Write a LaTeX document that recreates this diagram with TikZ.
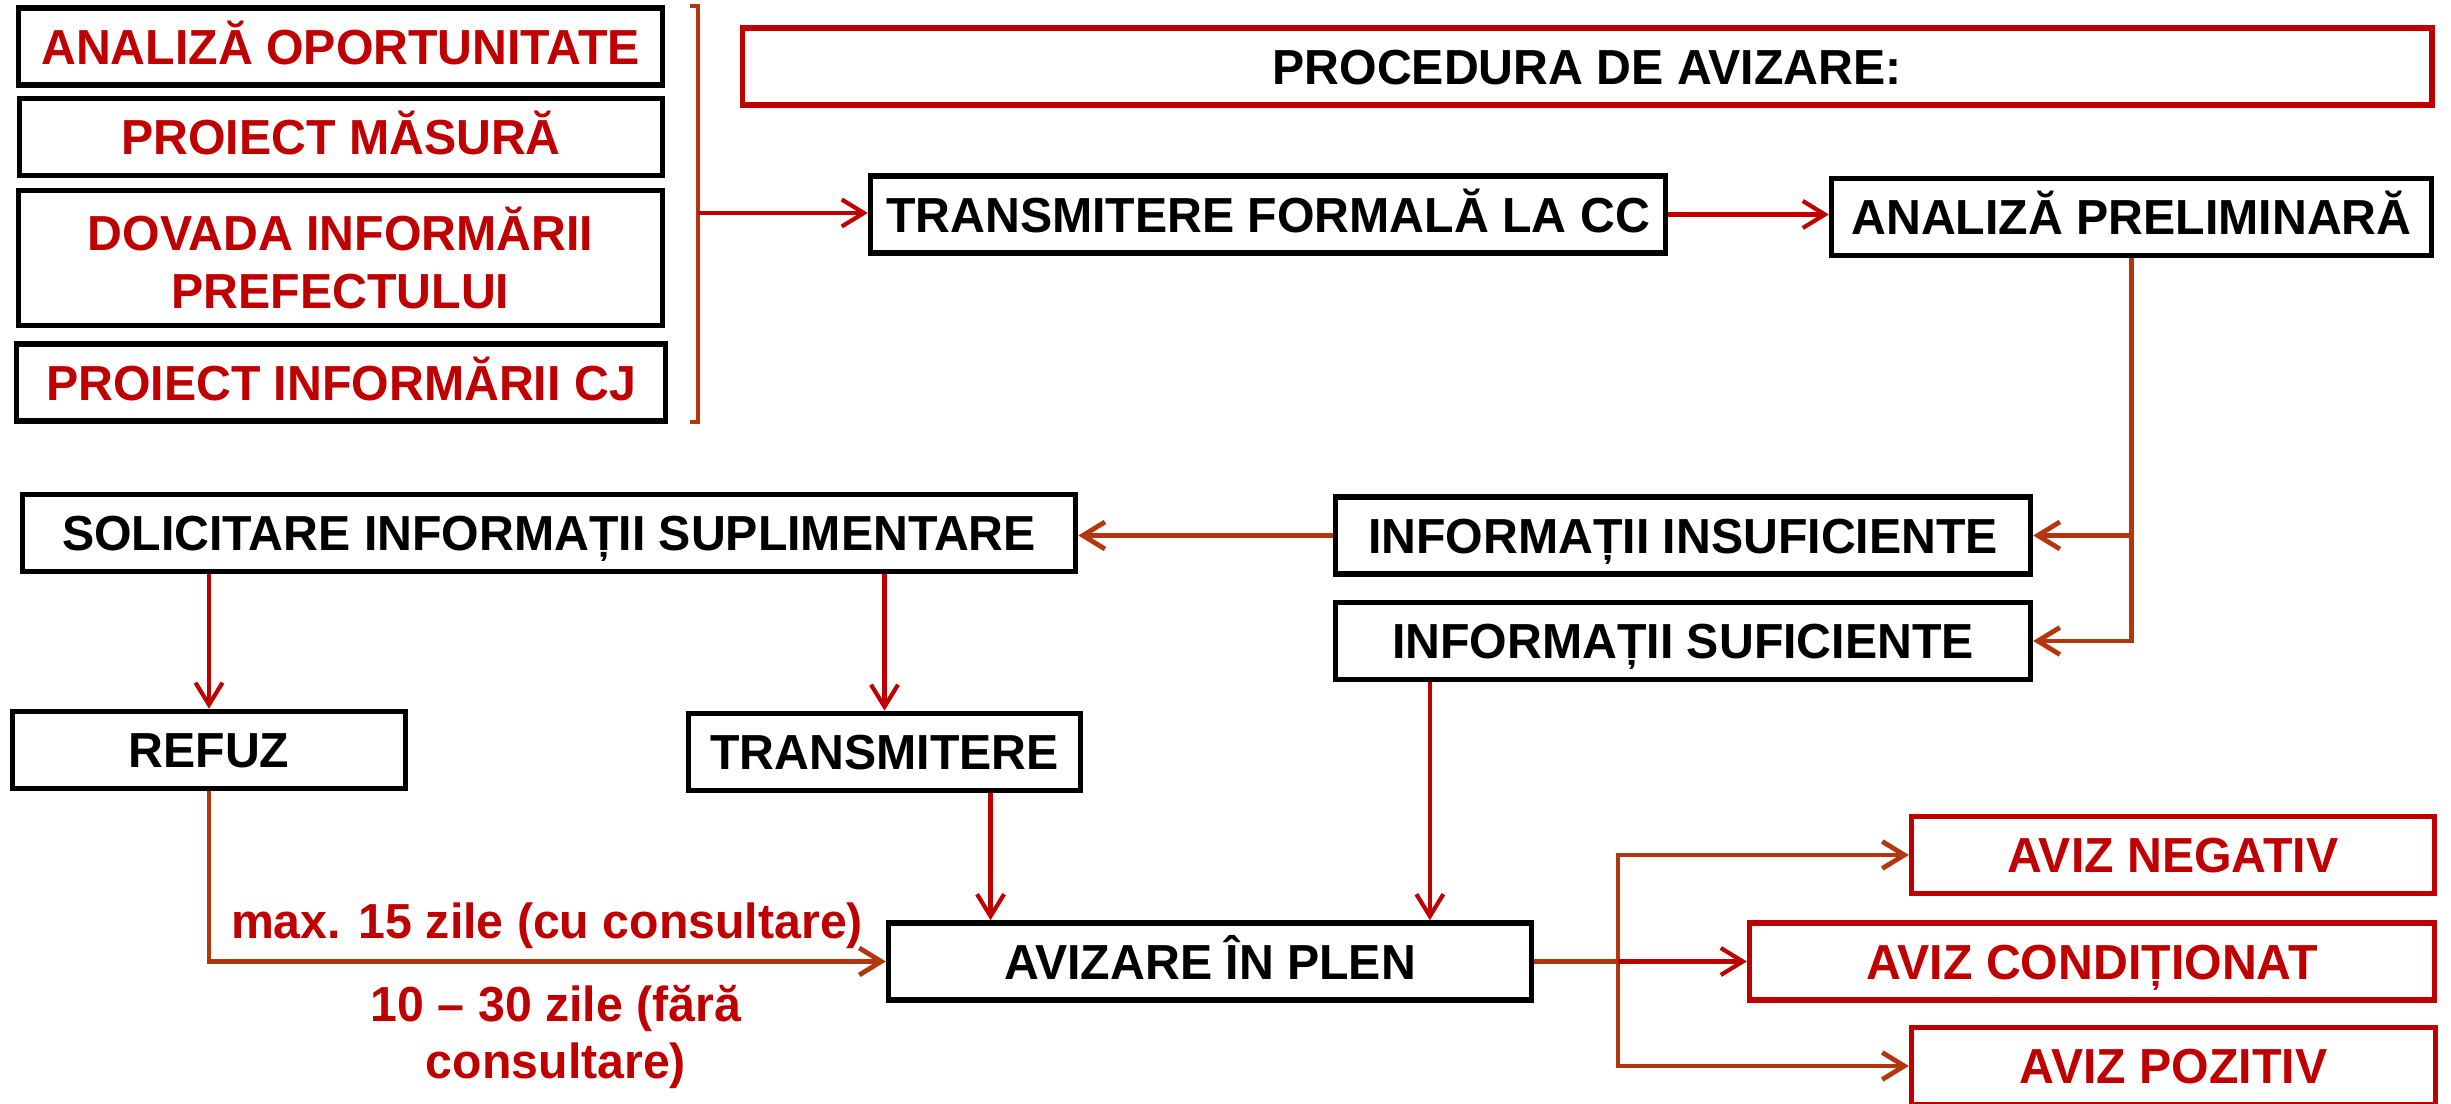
\documentclass[tikz,border=0pt]{standalone}
\usepackage{fontspec}
\setmainfont{Liberation Sans}[FakeStretch=0.98]
\usetikzlibrary{arrows.meta}

\definecolor{redc}{RGB}{192,0,0}
\definecolor{brownc}{RGB}{178,54,14}

\tikzstyle{bigfig}=[x=0.01cm,y=-0.01cm]
\tikzstyle{frame}=[draw,line width=0.055cm,fill=white,inner sep=0pt,minimum height=0.77cm,align=center,font=\fontsize{14pt}{16.3pt}\selectfont\bfseries]
\tikzstyle{box}=[frame,text height=0.354cm,text depth=0cm]
\tikzstyle{blackbox}=[box,draw=black]
\tikzstyle{redbox}=[box,draw=redc]
\tikzstyle{redtext}=[text=redc]
\tikzstyle{lbl}=[inner sep=0pt,align=center,text=redc,font=\fontsize{14pt}{16.3pt}\selectfont\bfseries]
\tikzstyle{redarrow}=[draw=redc,line width=0.042cm,-{Straight Barb[length=0.22cm,width=0.27cm]}]
\tikzstyle{brownline}=[draw=brownc,line width=0.048cm]
\tikzstyle{brownarrow}=[brownline,-{Straight Barb[length=0.22cm,width=0.27cm]}]

\begin{document}
\begin{tikzpicture}[style=bigfig]
\useasboundingbox (0,0) rectangle (2451,1104);

% documents
\node[blackbox,redtext,minimum width=6.435cm] (ao) at (340.5,46.5) {ANALIZĂ OPORTUNITATE};
\node[blackbox,redtext,minimum width=6.425cm] (pm) at (341,137) {PROIECT MĂSURĂ};
\node[frame,redtext,minimum width=6.435cm,minimum height=1.345cm] (dip) at (340.5,258) {DOVADA INFORMĂRII\\PREFECTULUI};
\node[blackbox,redtext,minimum width=6.485cm] (pcj) at (341,382.5) {PROIECT INFORMĂRII CJ};
\draw[brownc,line width=0.04cm] (690,6) -- (698,6) -- (698,422) -- (690,422);
\coordinate (brk) at (698,213);

% procedure
\node[redbox,minimum width=16.885cm] (proc) at (1587,66.5) {PROCEDURA DE AVIZARE:};
\node[blackbox,minimum width=7.945cm] (tfc) at (1268,214.5) {TRANSMITERE FORMALĂ LA CC};
\node[blackbox,minimum width=5.995cm] (anp) at (2131.5,217) {ANALIZĂ PRELIMINARĂ};
\node[blackbox,minimum width=6.945cm] (insuf) at (1683,535.5) {INFORMAȚII INSUFICIENTE};
\node[blackbox,minimum width=6.945cm] (suf) at (1683,641) {INFORMAȚII SUFICIENTE};
\node[blackbox,minimum width=10.525cm] (sol) at (549,533) {SOLICITARE INFORMAȚII SUPLIMENTARE};
\node[blackbox,minimum width=3.925cm] (ref) at (209,750) {REFUZ};
\node[blackbox,minimum width=3.915cm] (trm) at (884.5,752) {TRANSMITERE};
\node[blackbox,minimum width=6.425cm] (plen) at (1210,961.5) {AVIZARE ÎN PLEN};

% outcomes
\node[redbox,redtext,minimum width=5.225cm] (neg) at (2173,855) {AVIZ NEGATIV};
\node[redbox,redtext,minimum width=6.845cm] (cond) at (2092,961.5) {AVIZ CONDIȚIONAT};
\node[redbox,redtext,minimum width=5.235cm] (poz) at (2173.5,1066) {AVIZ POZITIV};

% deadlines
\node[lbl] (lab1) at (547,926) {max. 15 zile (cu consultare)};
\node[lbl] (lab2) at (556,1037) {10 – 30 zile (fără\\consultare)};

% connectors
\draw[redarrow] (brk) -- (brk -| tfc.west);
\draw[redarrow] (tfc.east) -- (tfc.east -| anp.west);
\draw[brownarrow] (anp.south) |- (insuf.east);
\draw[brownarrow] (anp.south) |- (suf.east);
\draw[brownarrow] (insuf.west) -- (insuf.west -| sol.east);
\draw[redarrow] (sol.south -| ref.north) -- (ref.north);
\draw[redarrow] (sol.south -| trm.north) -- (trm.north);
\coordinate (t1) at ([xshift=1.06cm]trm.south);
\draw[redarrow] (t1) -- (t1 |- plen.north);
\coordinate (s1) at ([xshift=-2.53cm]suf.south);
\draw[redarrow] (s1) -- (s1 |- plen.north);
\draw[brownarrow] (ref.south) |- (plen.west);
\coordinate (spl) at (1618,961.5);
\draw[brownline] (plen.east) -- (spl);
\draw[brownarrow] (spl) |- (neg.west);
\draw[brownarrow] (spl) |- (poz.west);
\draw[redarrow] (spl) -- (cond.west);

\end{tikzpicture}
\end{document}
